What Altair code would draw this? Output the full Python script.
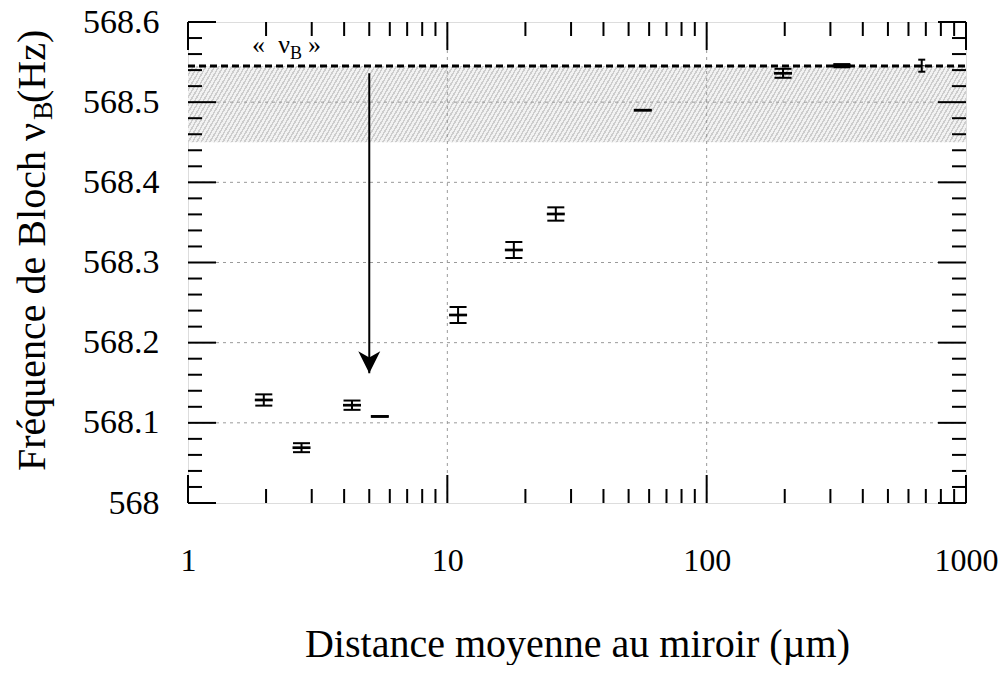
import altair as alt
import pandas as pd

# ---------------- data ----------------
distance = [1.96, 2.74, 4.29, 5.49, 11.0, 18.05, 26.2, 56.7, 197.0, 332.0]
frequency = [568.1285, 568.069, 568.122, 568.108, 568.2345, 568.3156, 568.3605,
             568.490, 568.536, 568.5455]
error = [0.007, 0.0056, 0.0058, 0.0, 0.010, 0.010, 0.0083, 0.0, 0.0056, 0.002]

last_distance = [675.0]
last_frequency = [568.5455]
last_error = [0.0075]

nu_b = 568.545          # dashed reference line
band_low = 568.45       # lower edge of hatched band
arrow_x = 5.0
arrow_top = 568.536
arrow_tip = 568.1617

x_major = [1, 10, 100, 1000]
x_minor = [m * d for d in [1, 10, 100] for m in range(2, 10)]
y_major = [568.0, 568.1, 568.2, 568.3, 568.4, 568.5, 568.6]
y_minor = [round(568.0 + 0.02 * i, 2) for i in range(31) if i % 5 != 0]
x_grid = [10, 100]
y_grid = [568.1, 568.2, 568.3, 568.4, 568.5]

# ---------------- layout ----------------
W, H = 778, 481
FONT = "Liberation Serif"
MAJ, MIN = 28, 14

xs = alt.Scale(type="log", domain=[1, 1000], nice=False)
ys = alt.Scale(domain=[568.0, 568.6], zero=False, nice=False)

x_axis = alt.Axis(
    values=x_major, labelExpr="datum.value", ticks=False, tickSize=0, domain=False,
    grid=False, labelFont=FONT, labelFontSize=32, labelColor="black",
    labelPadding=42, labelFlush=False, labelOverlap=False, labelBound=False,
    title="Distance moyenne au miroir (µm)", titleFont=FONT, titleFontSize=40,
    titleFontWeight="normal", titleColor="black", titlePadding=48,
)
y_axis = alt.Axis(
    values=y_major, labelExpr="toString(round(datum.value * 10) / 10)", ticks=False,
    tickSize=0, domain=False, grid=False, labelFont=FONT, labelFontSize=34,
    labelColor="black", labelPadding=29, labelFlush=False, labelOverlap=False,
    labelBound=False, title=None,
)


def X(field):
    return alt.X(field, scale=xs, axis=x_axis)


def Y(field):
    return alt.Y(field, scale=ys, axis=y_axis)


pts = pd.DataFrame({"d": distance, "f": frequency, "e": error})
pts["lo"] = pts["f"] - pts["e"]
pts["hi"] = pts["f"] + pts["e"]
last = pd.DataFrame({"d": last_distance, "f": last_frequency, "e": last_error})
last["lo"] = last["f"] - last["e"]
last["hi"] = last["f"] + last["e"]

# hatched band: striped linear gradient
N = 190
stops = []
for i in range(N):
    a = i / N
    b = (i + 0.4) / N
    c = (i + 1) / N
    stops += [{"offset": a, "color": "#cdcdcd"}, {"offset": b, "color": "#cdcdcd"},
              {"offset": b, "color": "#f2f2f2"}, {"offset": c, "color": "#f2f2f2"}]
hatch = {"gradient": "linear", "x1": 0, "y1": 0, "x2": 1.0532, "y2": 0.0596,
         "stops": stops}

band = alt.Chart(pd.DataFrame({"lo": [band_low], "hi": [nu_b]})).mark_rect(
    fill=hatch
).encode(x=alt.value(0), x2=alt.value(W), y=Y("lo:Q"), y2="hi:Q")

grid_x = alt.Chart(pd.DataFrame({"v": x_grid})).mark_rule(
    color="#9a9a9a", strokeWidth=1, strokeDash=[3, 4]
).encode(x=X("v:Q"), y=alt.value(0), y2=alt.value(H))

grid_y = alt.Chart(pd.DataFrame({"v": y_grid})).mark_rule(
    color="#9a9a9a", strokeWidth=1, strokeDash=[3, 4]
).encode(y=Y("v:Q"), x=alt.value(0), x2=alt.value(W))

ref_line = alt.Chart(pd.DataFrame({"v": [nu_b]})).mark_rule(
    color="black", strokeWidth=3, strokeDash=[7, 4]
).encode(y=Y("v:Q"), x=alt.value(0), x2=alt.value(W))

arrow_df = pd.DataFrame({"x": [arrow_x], "top": [arrow_top], "tip": [arrow_tip]})
shaft = alt.Chart(arrow_df).mark_rule(color="black", strokeWidth=2).encode(
    x=X("x:Q"), y=Y("top:Q"), y2=alt.Y2("tip:Q"))
head = alt.Chart(arrow_df).mark_point(
    shape="M 0 1 L -1 -1 L 0 -0.45 L 1 -1 Z", size=22 * 22, filled=True,
    color="black", opacity=1, yOffset=-11,
).encode(x=X("x:Q"), y=Y("tip:Q"))

cap_shape = "M -1 0 L 1 0"
bar_shape = "M -1 -0.15 L 1 -0.15 L 1 0.15 L -1 0.15 Z"


def errorbars(df, cap_w, mark_w):
    rule = alt.Chart(df).mark_rule(color="black", strokeWidth=2).encode(
        x=X("d:Q"), y=Y("lo:Q"), y2="hi:Q")
    lo = alt.Chart(df).mark_point(shape=cap_shape, size=cap_w * cap_w, filled=False,
                                  color="black", strokeWidth=2, opacity=1).encode(
        x=X("d:Q"), y=Y("lo:Q"))
    hi = alt.Chart(df).mark_point(shape=cap_shape, size=cap_w * cap_w, filled=False,
                                  color="black", strokeWidth=2, opacity=1).encode(
        x=X("d:Q"), y=Y("hi:Q"))
    mk = alt.Chart(df).mark_point(shape=bar_shape, size=mark_w * mark_w, filled=True,
                                  color="black", opacity=1, strokeWidth=0).encode(
        x=X("d:Q"), y=Y("f:Q"))
    return [rule, lo, hi, mk]


# inner ticks on all four sides
def yticks(vals, length):
    df = pd.DataFrame({"v": vals})
    left = alt.Chart(df).mark_rule(color="black", strokeWidth=2).encode(
        y=Y("v:Q"), x=alt.value(0), x2=alt.value(length))
    right = alt.Chart(df).mark_rule(color="black", strokeWidth=2).encode(
        y=Y("v:Q"), x=alt.value(W - length), x2=alt.value(W))
    return [left, right]


def xticks(vals, length):
    df = pd.DataFrame({"v": vals})
    bottom = alt.Chart(df).mark_rule(color="black", strokeWidth=2).encode(
        x=X("v:Q"), y=alt.value(H - length), y2=alt.value(H))
    top = alt.Chart(df).mark_rule(color="black", strokeWidth=2).encode(
        x=X("v:Q"), y=alt.value(0), y2=alt.value(length))
    return [bottom, top]


tick_layers = (yticks(y_major, MAJ) + yticks(y_minor, MIN)
               + xticks(x_major, MAJ) + xticks(x_minor, MIN))


def txt(s, x, y, size, align, angle=0, baseline="alphabetic"):
    return alt.Chart(pd.DataFrame({"t": [s]})).mark_text(
        font=FONT, fontSize=size, align=align, baseline=baseline, angle=angle,
        color="black",
    ).encode(text="t:N", x=alt.value(x), y=alt.value(y))


ytitle_main = txt("Fréquence de Bloch ν", -143, 101, 40, "right", 270)
ytitle_sub = txt("B", -136, 98, 28, "left", 270)
ytitle_hz = txt("(Hz)", -143, 81, 40, "left", 270)

lab0 = txt("«", 64, 31, 26, "left")
lab1 = txt("ν", 102, 31, 26, "right")
lab2 = txt("B", 102, 37, 18, "left")
lab3 = txt("»", 120, 31, 26, "left")

chart = alt.layer(
    band, grid_x, grid_y, ref_line, shaft, head,
    *errorbars(pts, 17, 18), *errorbars(last, 7, 6),
    *tick_layers,
    ytitle_main, ytitle_sub, ytitle_hz, lab0, lab1, lab2, lab3,
).properties(
    width=W, height=H,
    autosize=alt.AutoSizeParams(type="none"),
    padding={"left": 180, "top": 14, "right": 32, "bottom": 162},
).configure_view(
    stroke="black", strokeWidth=2,
).configure(background="white")

chart.save("out.html", embed_options={"renderer": "svg", "actions": False})
